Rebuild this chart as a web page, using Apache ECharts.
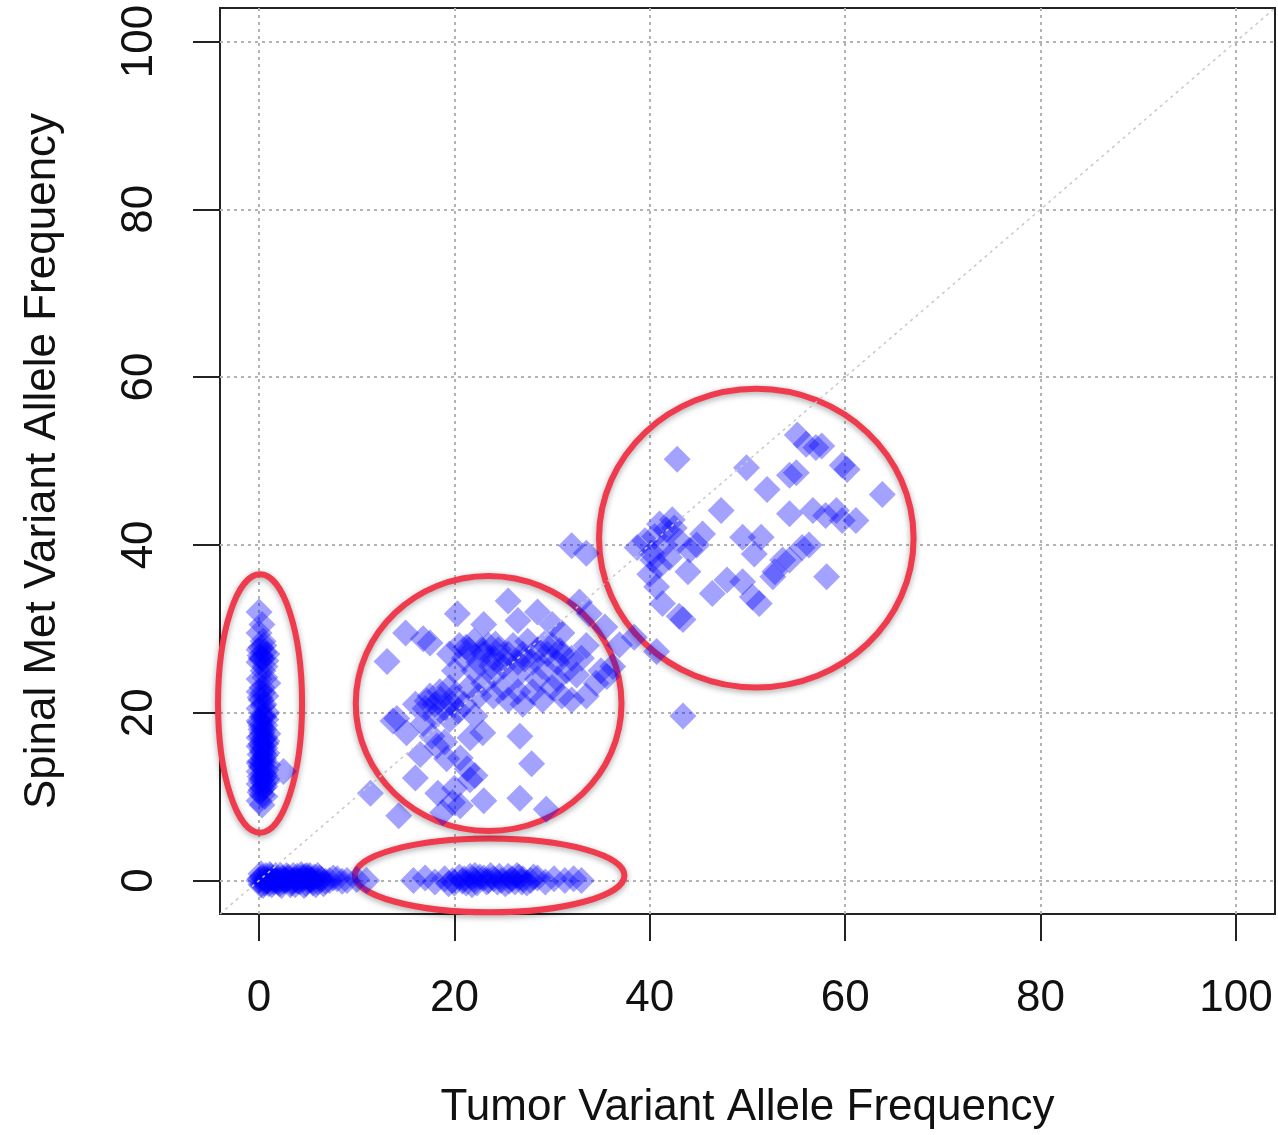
<!DOCTYPE html>
<html>
<head>
<meta charset="utf-8">
<script src="https://cdn.jsdelivr.net/npm/echarts@6/dist/echarts.min.js"></script>
<style>
  html, body { margin: 0; padding: 0; background: #fff; }
  #main { width: 1278px; height: 1135px; }
</style>
</head>
<body>
<div id="main"></div>
<script>
// tick values shared by both axes
const tickValues = [0, 20, 40, 60, 80, 100];

// tumor VAF = 0, spinal met VAF > 0
const metOnly = [
  [0, 32], [0.3, 30.5], [0, 29.5], [0.5, 28], [0, 27.5], [0.8, 27], [0.2, 26.5], [0, 26],
  [0.6, 25.5], [0.4, 25], [0, 24], [0.9, 23.5], [0.3, 23], [0, 22.5], [0.7, 22], [0.2, 21.5],
  [0.5, 21], [0, 20.5], [0.8, 20], [0.3, 19.5], [0, 19], [0.6, 18.5], [0.2, 18], [0.9, 17.5],
  [0, 17], [0.4, 16.8], [0.7, 16.3], [0, 16], [0.3, 15.5], [0.8, 15.2], [0.1, 15], [0.5, 14.5],
  [0, 14], [0.9, 13.8], [0.3, 13.5], [0, 13], [0.6, 12.5], [0.2, 12], [0.8, 11.8], [0, 11.5],
  [0.4, 11], [0.1, 10.5], [0.6, 10], [0, 9.5], [0.3, 9], [2.5, 13], [0.5, 27.2], [0.1, 26.8],
  [0.4, 19.8], [0.2, 17.2], [0.6, 15.8], [0.1, 14.2], [0.5, 12.8], [0.2, 10.8],
  [0.7, 19.2], [0.1, 18.8], [0.5, 18], [0.3, 17.6], [0.8, 16.6], [0.2, 16.3], [0.6, 14.9],
  [0.3, 14.1], [0.7, 13.2], [0.1, 12.4], [0.5, 11.6], [0.3, 10.2], [0.8, 12.1], [0.4, 20.8],
  [0.1, 21.8], [0.6, 24.2], [0.2, 27.8], [0.7, 26.2], [0.4, 28.5],
  [0.5, 19.5], [0.2, 18.4], [0.6, 17], [0.4, 15.2], [0.2, 13.6], [0.6, 11.2], [0.4, 12.2],
  [0.3, 16], [0.5, 14], [0.4, 22.4], [0.3, 26.4]
];

// spinal met VAF = 0, low tumor VAF
const lowZero = [
  [0, 0], [0.3, 0.4], [0.6, -0.3], [0.9, 0], [1.2, 0.5], [1.5, -0.2], [1.8, 0.2], [2.1, -0.4],
  [2.4, 0.3], [2.7, 0], [3, 0.4], [3.3, -0.3], [3.6, 0.1], [3.9, 0.5], [4.2, -0.2], [4.5, 0.2],
  [4.8, -0.4], [5.1, 0.3], [5.4, 0], [5.7, 0.4], [6, -0.2], [6.4, 0.1], [0.2, -0.5], [1, -0.4],
  [2.2, 0.6], [3.5, 0.6], [4.7, 0.5], [7.2, 0], [8, 0.2], [9, 0], [10, 0.1], [11, 0],
  [0.1, 0.2], [0.5, 0.1], [0.8, -0.1], [1.4, 0.2], [1.9, -0.2], [2.5, -0.1], [2.9, 0.2],
  [3.4, 0], [4, -0.1], [4.4, 0.4], [5, 0], [5.5, -0.3], [6.2, 0.3], [1.1, 0.7], [2, 0],
  [3.2, -0.5], [4.9, 0.6], [6.8, -0.1], [7.6, 0.3], [8.5, -0.1],
  [0.4, -0.6], [0.7, 0.6], [1.3, -0.5], [1.7, 0.6], [2.3, -0.6], [2.8, 0.6], [3.7, -0.5],
  [4.3, 0.7], [4.6, -0.6], [5.2, 0.6], [5.8, -0.5], [0.2, 0.8], [1.6, 0], [2.6, 0.1],
  [3.8, 0], [5.3, 0.1], [6, 0.6], [6.6, -0.4]
];

// spinal met VAF = 0, tumor VAF 15-33
const highZero = [
  [15.8, 0], [17, 0.3], [18, -0.2], [19, 0.2], [19.8, 0], [20.5, 0.4], [21.2, -0.3], [22, 0.1],
  [22.6, 0.4], [23.3, -0.2], [24, 0.2], [24.8, 0], [25.5, 0.5], [26.2, -0.2], [27, 0.2], [27.8, 0],
  [28.5, 0.3], [29.3, -0.2], [30.2, 0.2], [31.3, 0], [32.2, 0.2], [33, 0], [21.6, 0.5], [25.2, -0.4],
  [20, -0.3], [21, 0.2], [22.3, -0.3], [23, 0.3], [24.4, -0.2], [25.9, 0.2], [26.6, 0.4],
  [27.4, -0.3], [19.4, -0.4], [23.7, 0.6],
  [20.8, -0.1], [22.1, 0.6], [23.5, 0], [24.6, 0.5], [25.6, -0.1], [26.9, -0.2], [28.1, 0.4],
  [21.8, -0.5], [26.4, 0.6]
];

// shared mutations, ~20-35 %
const midCluster = [
  [19.5, 27], [20.5, 28], [21, 26.5], [21.5, 27.5], [22, 28.5], [22.5, 26], [23, 27], [23.5, 28],
  [24, 26.5], [24.5, 27.5], [25, 25.5], [25.5, 27], [26, 28], [26.5, 26], [27, 27], [27.5, 28.5],
  [28, 26], [28.5, 27.5], [29, 25.5], [29.5, 27], [30, 28], [30.5, 26], [31, 27], [31.5, 25],
  [32, 26.5], [20, 25], [22, 25], [24, 24.5], [26.5, 24.5], [28.5, 24], [30.5, 24], [32.5, 24.5],
  [33, 26.5], [33.5, 28],
  [16, 21], [17, 20.5], [17.5, 22], [18, 21], [18.5, 22.5], [19, 20.5], [19.5, 23], [20, 22],
  [21, 21], [21.5, 23], [22.5, 22], [23, 23.5], [24, 22], [25, 23], [25.5, 21.5], [26.5, 22.5],
  [27, 21], [28, 22.5], [29, 21.5], [30, 23], [31, 22], [32, 21.5], [33.5, 22], [34.5, 23.5],
  [35, 25],
  [13.1, 26.1], [15, 29.5], [16.8, 28.8], [17.5, 28.3], [20.3, 31.8], [23, 30.5], [25.5, 33.3],
  [26.5, 31], [28.5, 32], [30, 30.5], [31, 29.5], [32.8, 33.2], [33.8, 31.8], [35.4, 30.2],
  [36.2, 25.5], [35.6, 24.3], [32, 39.9], [33.5, 39], [36.9, 28.1], [38.4, 29],
  [13.7, 19], [14.1, 19.3], [15.1, 17.6], [16.8, 18.7], [18, 19.6], [19.5, 19.2], [22.1, 19.6],
  [17.7, 17.2], [18.2, 16], [21.6, 17], [22.9, 17.6], [19.2, 14.5], [20.6, 14.6], [21.3, 13.3],
  [22.1, 12.5], [21.6, 12], [16, 12.2], [18.3, 10.4], [19.8, 9.3], [20.6, 8.9], [18.8, 8.1],
  [26.7, 17.2], [27.9, 13.9], [26.7, 9.8], [29.4, 8.5], [11.4, 10.4], [14.3, 7.7], [16.5, 15],
  [19, 16.5], [20, 11], [23, 9.5],
  [21.2, 27.8], [22.8, 27.5], [24.2, 28.2], [25.2, 26.2], [27.2, 26.4], [29.2, 28.2],
  [30.8, 27.4], [23.8, 25.6], [18.6, 21.6], [19.8, 21], [17.2, 21.4], [20.4, 20.2]
];

// shared mutations, ~40-64 %
const highCluster = [
  [42.8, 50.2], [49.9, 49.2], [52, 46.6], [55.1, 53.1], [56, 52], [57, 51.6], [57.6, 51.8],
  [55, 48.6], [54.3, 48.3], [59.7, 49.5], [60.2, 49], [63.8, 46], [47.3, 44.1], [45.4, 41.3],
  [41.7, 41.8], [41, 42.5], [42.5, 42], [38.7, 39.7], [40.3, 38.2], [40, 36.5], [40.7, 35],
  [41.3, 33], [43.4, 31.1], [43, 31.5], [44.1, 39.4], [44.8, 40], [43.9, 36.8], [46.4, 34.2],
  [47.9, 35.8], [49.5, 35.6], [50.5, 33.8], [49.5, 40.9], [51.4, 40.9], [50.7, 38.9],
  [52.8, 36.8], [54.3, 38.2], [55.6, 39.7], [56.3, 40], [58.1, 36.2], [54.3, 43.7],
  [56.7, 44.1], [59.1, 44.1], [59.7, 42.9], [61.1, 42.9], [58, 43.5], [41.5, 40], [40.5, 41],
  [39.5, 40.5], [42, 38.5], [41, 37.5], [40.2, 39], [42.3, 43], [43, 40.5], [40.7, 27.3],
  [43.4, 19.6], [51.2, 33], [53.6, 38.2], [52.6, 36.2]
];

// red annotation ellipses: centre and radii in data units
const ringCx = [0.1, 23.6, 23.5, 50.9];
const ringCy = [21.1, 0.6, 21.1, 40.8];
const ringRx = [4.3, 13.8, 13.6, 16.1];
const ringRy = [15.4, 4.4, 15.2, 17.8];

const rings = ringCx.map((cx, i) => [cx, ringCy[i], ringRx[i], ringRy[i]]);
const allPoints = metOnly.concat(lowZero, highZero, midCluster, highCluster);

const textFont = "'Liberation Sans', Arial, Helvetica, sans-serif";

var myChart = echarts.init(document.getElementById("main"), null, { renderer: "canvas" });

function axisBase(name, nameGap) {
  return {
    type: "value",
    min: -4,
    max: 104,
    name: name,
    nameLocation: "middle",
    nameGap: nameGap,
    nameTextStyle: { fontSize: 44, color: "#111", fontFamily: textFont },
    axisLine: { show: false, onZero: false },
    axisTick: {
      show: true,
      inside: false,
      length: 27,
      customValues: tickValues,
      lineStyle: { color: "#222", width: 2 },
    },
    axisLabel: {
      customValues: tickValues,
      fontSize: 44,
      color: "#111",
      fontFamily: textFont,
    },
    splitLine: {
      show: true,
      lineStyle: { color: "#b3b3b3", width: 2, type: [3, 4] },
    },
  };
}

const xAxis = axisBase("Tumor Variant Allele Frequency", 172);
xAxis.axisLabel.margin = 63;

const yAxis = axisBase("Spinal Met Variant Allele Frequency", 155);
yAxis.axisLabel.rotate = 90;
yAxis.axisLabel.margin = 58;

var option = {
  backgroundColor: "#fff",
  animation: false,
  grid: {
    left: 220,
    top: 8,
    right: 3,
    bottom: 217,
    show: true,
    borderColor: "#222",
    borderWidth: 2,
    backgroundColor: "transparent",
  },
  xAxis: xAxis,
  yAxis: yAxis,
  series: [
    {
      type: "line",
      data: [[-4, -4], [104, 104]],
      symbol: "none",
      silent: true,
      lineStyle: { color: "#c8c8c8", width: 1.5, type: [3, 4] },
    },
    {
      type: "scatter",
      data: allPoints,
      symbol: "diamond",
      symbolSize: 27,
      itemStyle: { color: "rgba(0, 0, 255, 0.45)" },
    },
    {
      type: "custom",
      data: rings,
      clip: false,
      silent: true,
      renderItem: function (params, api) {
        const c = api.coord([api.value(0), api.value(1)]);
        const s = api.size([api.value(2), api.value(3)]);
        return {
          type: "ellipse",
          shape: { cx: c[0], cy: c[1], rx: s[0], ry: s[1] },
          style: {
            fill: "none",
            stroke: "#ef3b4d",
            lineWidth: 6,
            shadowBlur: 6,
            shadowColor: "rgba(0, 0, 0, 0.35)",
            shadowOffsetY: 2,
          },
        };
      },
    },
  ],
};
myChart.setOption(option);
</script>
</body>
</html>
